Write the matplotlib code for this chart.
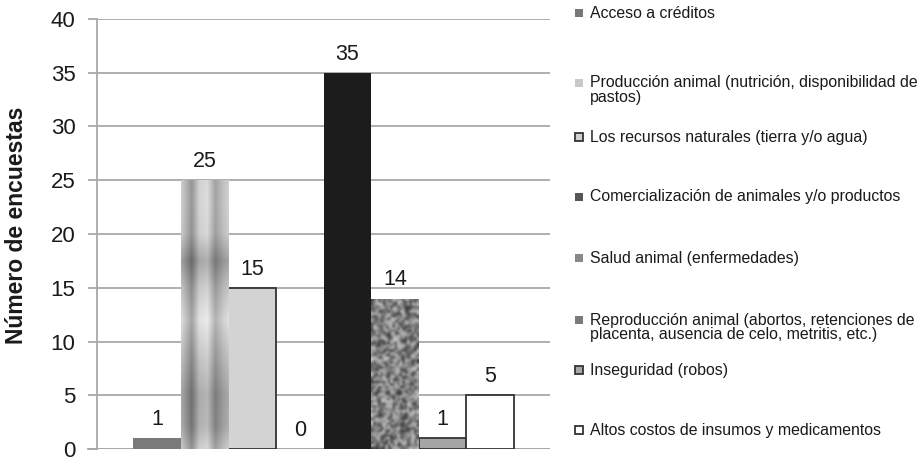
import matplotlib
matplotlib.use('Agg')
import matplotlib.pyplot as plt
import matplotlib.patches as mpatches
import numpy as np

categorias = ['Acceso a créditos',
              'Producción animal (nutrición, disponibilidad de\npastos)',
              'Los recursos naturales (tierra y/o agua)',
              'Comercialización de animales y/o productos',
              'Salud animal (enfermedades)',
              'Reproducción animal (abortos, retenciones de\nplacenta, ausencia de celo, metritis, etc.)',
              'Inseguridad (robos)',
              'Altos costos de insumos y medicamentos']
encuestas = [1, 25, 15, 0, 35, 14, 1, 5]
y_ticks = [0, 5, 10, 15, 20, 25, 30, 35, 40]

# relleno de cada barra y de su marca en la leyenda
relleno = ['#7a7a7a', None, '#d3d3d3', '#555555', '#1c1c1c', None, '#a5a5a5', '#ffffff']
borde = [None, None, '#333333', None, None, None, '#333333', '#333333']
marca = ['#777777', '#c8c8c8', '#d0d0d0', '#555555', '#888888', '#7a7a7a', '#a8a8a8', '#ffffff']

plt.rcParams['font.family'] = ['Liberation Sans', 'DejaVu Sans']

W, H = 924, 461
fig = plt.figure(figsize=(W / 100, H / 100), dpi=100)
ax = fig.add_axes([97 / W, 1 - 449 / H, (550 - 97) / W, (449 - 19) / H])

x = np.arange(len(encuestas))
barras = []
for i, v in enumerate(encuestas):
    fc = relleno[i] if relleno[i] is not None else 'none'
    ec = borde[i] if borde[i] is not None else 'none'
    b = ax.bar(x[i], v, width=1.0, color=fc, edgecolor=ec, linewidth=1.3, zorder=3)
    barras.append(b[0])

# barra con degradado metalico
p = barras[1]
xx = np.linspace(0, 1, 60)
perfil_h = np.interp(xx, [0, 0.08, 0.22, 0.38, 0.55, 0.72, 0.88, 1.0],
                     [0.82, 0.68, 0.42, 0.85, 0.92, 0.52, 0.72, 0.84])
yy = np.linspace(0, 25, 200)
perfil_v = np.interp(yy, [0, 2, 5, 9, 12, 15, 17.5, 20, 23, 25],
                     [0.75, 0.50, 0.45, 0.70, 0.92, 0.70, 0.40, 0.75, 0.80, 0.78])
grad = 0.55 * perfil_h[None, :] + 0.45 * perfil_v[:, None]
im = ax.imshow(grad, extent=[p.get_x(), p.get_x() + p.get_width(), 0, p.get_height()],
               origin='lower', cmap='gray', vmin=0, vmax=1, aspect='auto',
               interpolation='bilinear', zorder=3)
im.set_clip_path(p)

# barra con textura granulada
p = barras[5]
fil, col = 62, 20
ii, jj = np.mgrid[0:fil, 0:col]
ruido = (np.sin(ii * 12.9898 + jj * 78.233) * 43758.5453) % 1.0
ruido = 0.2 + 0.6 * ruido
im2 = ax.imshow(ruido, extent=[p.get_x(), p.get_x() + p.get_width(), 0, p.get_height()],
                origin='lower', cmap='gray', vmin=0, vmax=1, aspect='auto',
                interpolation='bicubic', zorder=3)
im2.set_clip_path(p)

for i, v in enumerate(encuestas):
    ax.annotate(str(v), (x[i], v), xytext=(0, 9.5), textcoords='offset points',
                ha='center', va='baseline', fontsize=15.5, color='#1a1a1a', zorder=4)

ax.set_xlim(-0.5 - 0.756, len(encuestas) - 0.5 + 0.756)
ax.set_ylim(0, 40)
ax.set_yticks(y_ticks)
ax.set_xticks([])
ax.grid(axis='y', color='#a8a8a8', linewidth=1.3, zorder=0)
ax.set_axisbelow(True)
for s in ['top', 'right', 'bottom']:
    ax.spines[s].set_visible(False)
ax.spines['left'].set_color('#a8a8a8')
ax.spines['left'].set_linewidth(1.3)
ax.tick_params(axis='y', length=6.5, width=1.3, color='#a8a8a8', pad=9,
               labelsize=16, labelcolor='#1a1a1a')
ax.axhline(0, color='#a8a8a8', linewidth=1.3, zorder=2)
ax.plot([-0.5 - 0.756 - 9 / 47.6, -0.5 - 0.756], [0, 0], color='#a8a8a8',
        linewidth=1.3, clip_on=False, zorder=2)

ax.set_ylabel('Número de encuestas', fontsize=16.5, fontweight='bold', color='#1a1a1a')
ax.yaxis.set_label_coords(-(97 - 28) / 453, 0.52)

# leyenda a la derecha
y_ley = [13, 83, 137, 197, 258, 320, 370, 430]
for i, txt in enumerate(categorias):
    yc = y_ley[i]
    con_borde = borde[i] is not None
    r = mpatches.Rectangle((575 / W, 1 - (yc + 4) / H), 8 / W, 8 / H,
                           transform=fig.transFigure, facecolor=marca[i],
                           edgecolor='#333333' if con_borde else 'none',
                           linewidth=1.3 if con_borde else 0)
    fig.patches.append(r)
    for k, linea in enumerate(txt.split('\n')):
        fig.text(590 / W, 1 - (yc + 14 * k) / H, linea, fontsize=11.4,
                 color='#1a1a1a', va='center', ha='left')

fig.savefig('out.png', dpi=100)
